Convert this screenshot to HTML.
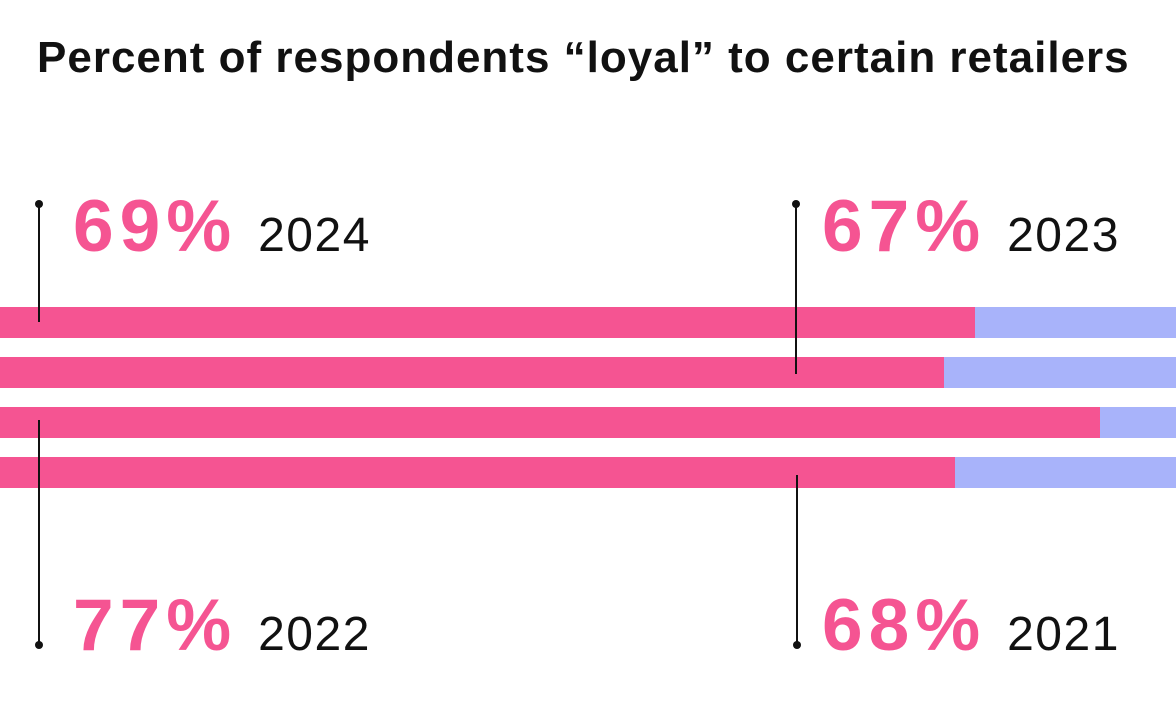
<!DOCTYPE html>
<html><head><style>
body{margin:0;width:1176px;height:715px;background:#fff;overflow:hidden;position:relative;font-family:"Liberation Sans",sans-serif}
.t{position:absolute;left:37px;top:33px;font-size:44px;font-weight:bold;color:#111;white-space:nowrap;letter-spacing:1.0px}
.bar{position:absolute;left:0;width:1176px;height:31px;background:#a8b3fa}
.bar div{height:100%;background:#f55492}
.v{position:absolute;line-height:1;white-space:nowrap}
.p{font-size:73px;font-weight:bold;color:#f55492;letter-spacing:6px}
.y{font-size:48px;color:#111;margin-left:21px;letter-spacing:1.5px}
.l{position:absolute;width:1.5px;background:#111}
.d{position:absolute;width:8px;height:8px;border-radius:50%;background:#111}
</style></head><body>
<div class="t">Percent of respondents “loyal” to certain retailers</div>
<div class="bar" style="top:307px"><div style="width:975px"></div></div>
<div class="bar" style="top:357px"><div style="width:944px"></div></div>
<div class="bar" style="top:407px"><div style="width:1100px"></div></div>
<div class="bar" style="top:457px"><div style="width:955px"></div></div>
<div class="l" style="left:38px;top:204px;height:118px"></div><div class="d" style="left:35px;top:200px"></div>
<div class="l" style="left:795px;top:204px;height:170px"></div><div class="d" style="left:792px;top:200px"></div>
<div class="l" style="left:38px;top:420px;height:225px"></div><div class="d" style="left:35px;top:641px"></div>
<div class="l" style="left:796px;top:475px;height:170px"></div><div class="d" style="left:793px;top:641px"></div>
<div class="v" style="left:73px;top:190px"><span class="p">69%</span><span class="y">2024</span></div>
<div class="v" style="left:822px;top:190px"><span class="p">67%</span><span class="y">2023</span></div>
<div class="v" style="left:73px;top:589px"><span class="p">77%</span><span class="y">2022</span></div>
<div class="v" style="left:822px;top:589px"><span class="p">68%</span><span class="y">2021</span></div>
</body></html>
